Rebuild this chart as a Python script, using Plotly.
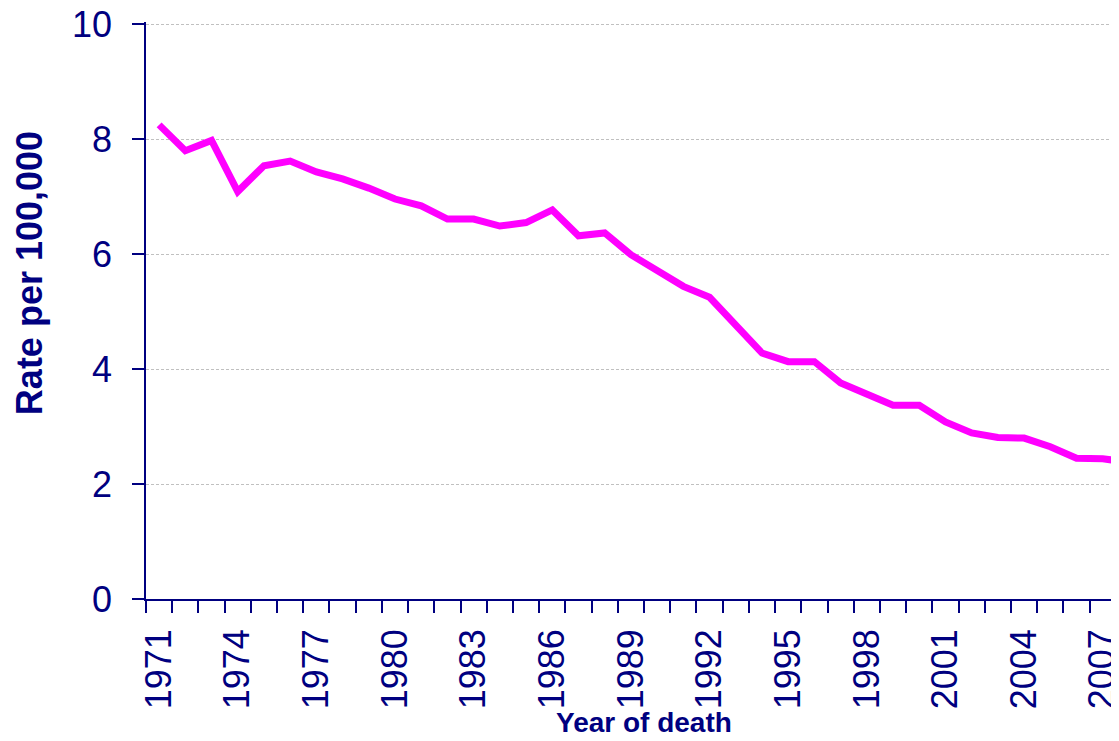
import plotly.graph_objects as go

years = list(range(1971, 2009))
rates = [8.25, 7.80, 7.98, 7.09, 7.54, 7.62, 7.43, 7.31, 7.15, 6.96,
         6.84, 6.61, 6.61, 6.49, 6.55, 6.77, 6.32, 6.37, 5.99, 5.71,
         5.44, 5.25, 4.76, 4.28, 4.13, 4.13, 3.76, 3.58, 3.37, 3.37,
         3.08, 2.89, 2.81, 2.80, 2.65, 2.45, 2.44, 2.38]

y_title = "Rate per 100,000"
x_title = "Year of death"

navy = "#000080"
font_family = "Liberation Sans, Arial, sans-serif"

# page body has an 8px margin, so the figure is sized 8px smaller
W, H = 1111, 733

fig = go.Figure()
fig.add_trace(go.Scatter(
    x=years, y=rates, mode="lines",
    line=dict(color="#FF00FF", width=7),
    hoverinfo="x+y", showlegend=False,
))

fig.update_layout(
    template="none",
    width=W, height=H,
    margin=dict(l=138, r=0, t=13.7, b=142, autoexpand=False),
    paper_bgcolor="white", plot_bgcolor="white",
    font=dict(family=font_family, color=navy),
    xaxis=dict(
        automargin=False,
        range=[1970.5, 2007.62],
        tickmode="linear", tick0=1971, dtick=3,
        ticks="", tickangle=-90,
        tickfont=dict(size=36, color=navy, family=font_family),
        ticklabelstandoff=14,
        ticklabeloverflow="allow",
        showgrid=False, zeroline=False,
        showline=True, linecolor=navy, linewidth=1.5,
        minor=dict(ticks="outside", tick0=1970.5, dtick=1, ticklen=12,
                   tickcolor=navy, tickwidth=1.5, showgrid=False),
    ),
    yaxis=dict(
        automargin=False,
        range=[0, 10.04], tickmode="linear", tick0=0, dtick=2,
        ticks="outside", ticklen=12, tickcolor=navy, tickwidth=1.5,
        tickfont=dict(size=36, color=navy, family=font_family),
        ticklabelstandoff=13,
        ticklabeloverflow="allow",
        showgrid=True, gridcolor="#c0c0c0", gridwidth=1, griddash="3px,2px",
        zeroline=False,
        showline=True, linecolor=navy, linewidth=1.5,
    ),
)

fig.add_annotation(
    x=0, xref="paper", y=5.67, yref="y",
    text="<b>" + y_title + "</b>", showarrow=False, textangle=-90,
    xanchor="center", yanchor="middle", xshift=-117,
    font=dict(size=36, color=navy, family=font_family),
)

fig.add_annotation(
    x=1989.5, xref="x", y=0, yref="paper",
    text="<b>" + x_title + "</b>", showarrow=False,
    yanchor="bottom", yshift=-141,
    font=dict(size=28, color=navy, family=font_family),
)

fig.write_html("out.html")
